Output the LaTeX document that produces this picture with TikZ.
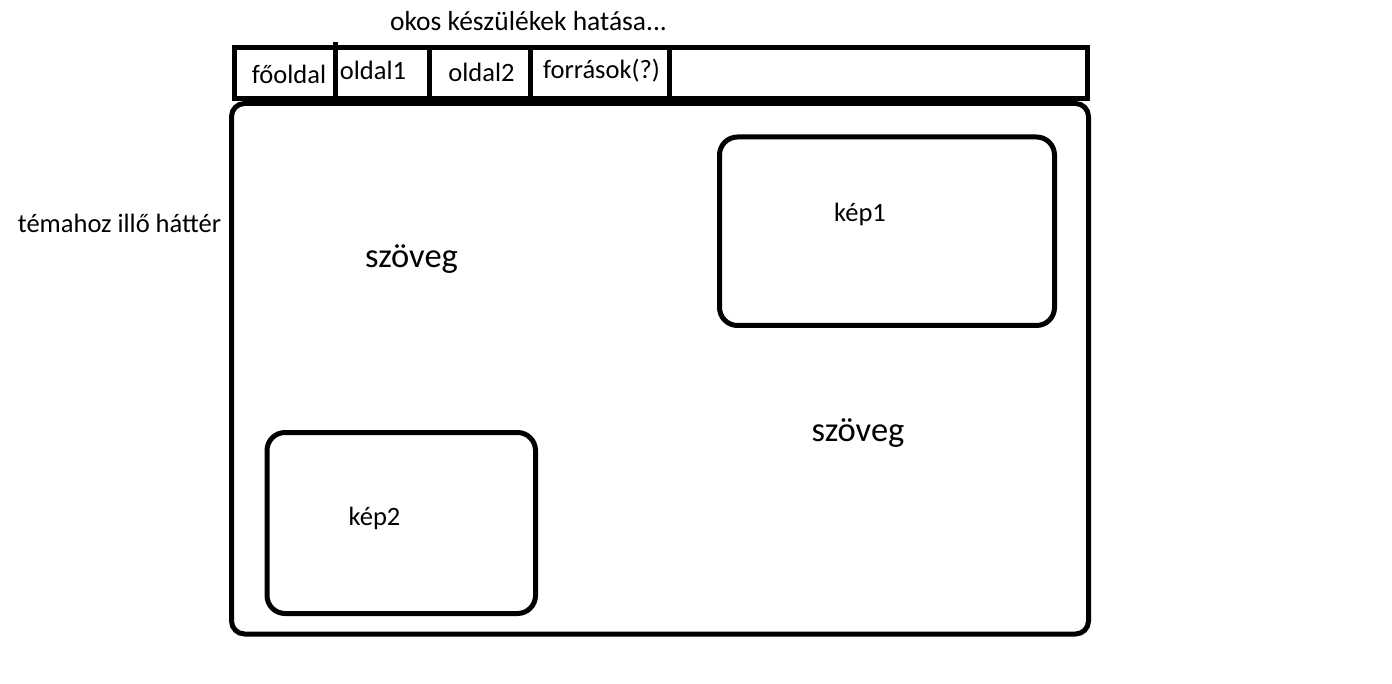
\documentclass[tikz,border=0pt]{standalone}
\usepackage{fontspec}
\setmainfont{Carlito}
\begin{document}
\begin{tikzpicture}[x=1pt,y=-1pt,
  frame/.style={draw=black,line width=5pt},
  lbl/.style={inner sep=0pt,anchor=base,font=\fontsize{26.5}{30}\selectfont},
  big/.style={inner sep=0pt,anchor=base,font=\fontsize{34.5}{40}\selectfont}]
\useasboundingbox[fill=white] (0,0) rectangle (1392,684);
% tab bar
\draw[frame] (234,47.5) rectangle (1087.5,98.5);
\coordinate (d1t) at (335,42); \coordinate (d1b) at (335,98);
\coordinate (d2t) at (429.5,47.5); \coordinate (d2b) at (429.5,98);
\coordinate (d3t) at (530.5,47.5); \coordinate (d3b) at (530.5,98);
\coordinate (d4t) at (669.5,47.5); \coordinate (d4b) at (669.5,98);
\draw[frame] (d1t) -- (d1b);
\draw[frame] (d2t) -- (d2b);
\draw[frame] (d3t) -- (d3b);
\draw[frame] (d4t) -- (d4b);
% main area
\draw[frame,rounded corners=13pt] (231.5,103.5) rectangle (1088.5,634);
% image boxes
\draw[frame,rounded corners=18pt] (719.5,137) rectangle (1054.5,325.5);
\draw[frame,rounded corners=18pt] (267,432.5) rectangle (535.5,613.5);
% texts
\node[lbl,font=\fontsize{27.5}{30}\selectfont] (title) at (528.5,31) {okos készülékek hatása...};
\node[lbl] (t1) at (289,83.5) {főoldal};
\node[lbl] (t2) at (373,80) {oldal1};
\node[lbl] (t3) at (481.5,81.5) {oldal2};
\node[lbl] (t4) at (601.5,78.5) {források(?)};
\node[lbl] (bg) at (119.5,233) {témahoz illő háttér};
\node[big] (sz1) at (411.5,268) {szöveg};
\node[big] (sz2) at (858,441.5) {szöveg};
\node[lbl] (k1) at (860,221.5) {kép1};
\node[lbl] (k2) at (374.5,525) {kép2};
\end{tikzpicture}
\end{document}
